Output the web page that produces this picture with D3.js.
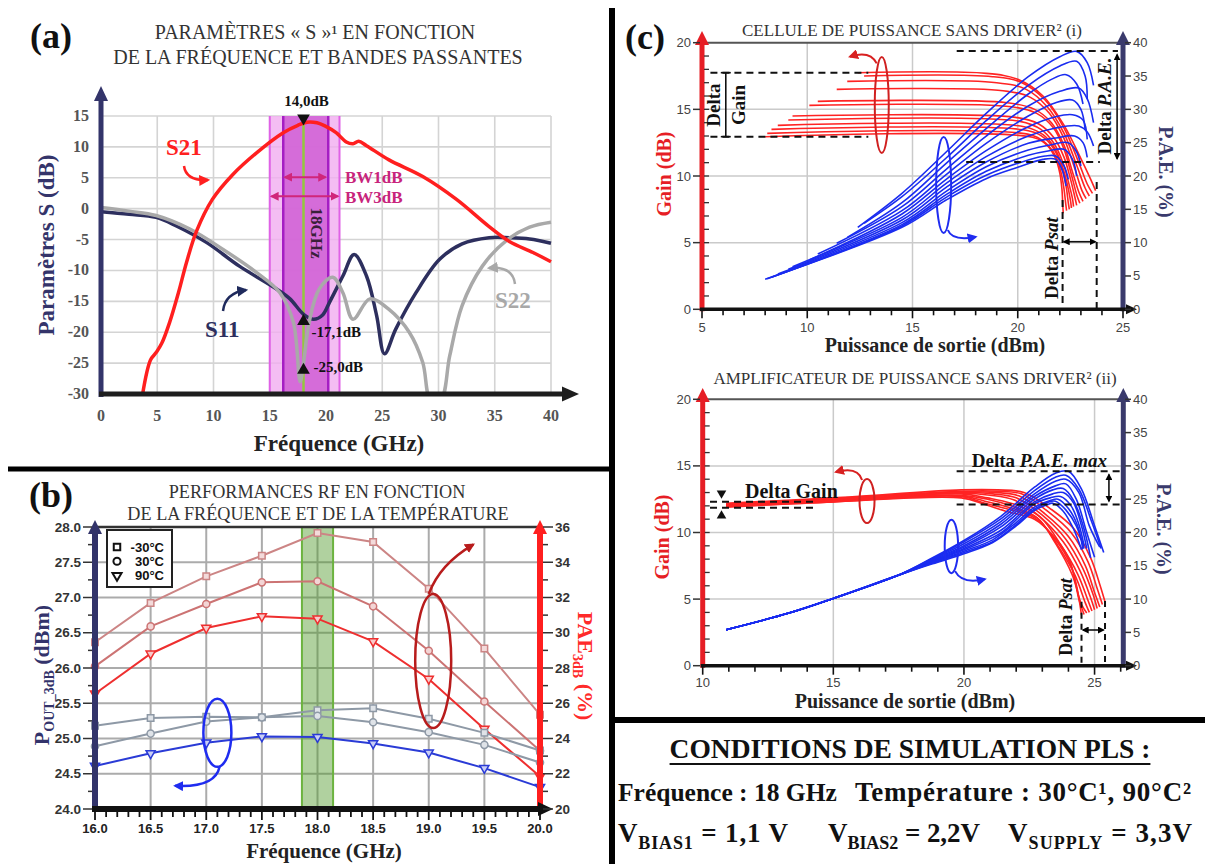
<!DOCTYPE html>
<html><head><meta charset="utf-8">
<script src="https://cdn.jsdelivr.net/npm/d3@7/dist/d3.min.js"></script>
<style>html,body{margin:0;padding:0;background:#fff}svg{display:block}</style>
</head><body>
<svg id="chart" width="1205" height="864" xmlns="http://www.w3.org/2000/svg"></svg>
<script>
/* ================= DATA ================= */
// (a) S-parameters vs frequency
const aFreqTicks=[0,5,10,15,20,25,30,35,40];
const aDbTicks=[-30,-25,-20,-15,-10,-5,0,5,10,15];
const s21Freq=[3.7,4.4,4.9,5.4,6.1,6.9,7.6,8.5,9.9,11.7,13.8,16.2,17.5,18.3,19.2,19.9,20.9,21.8,22.4,22.9,23.6,25.6,28.6,31.6,34.5,36.3,38.4,40];
const s21Db=[-30,-24.5,-23.3,-21.8,-18.4,-13.5,-8.7,-3.6,1.5,5.5,9.0,12.3,13.5,14.0,13.9,13.4,12.3,10.8,10.5,10.9,10.2,7.9,5.2,1.5,-2.9,-5.3,-7.1,-8.6];
const s11Freq=[0,2.5,4.9,6.7,9.4,12.3,15.6,16.8,18.0,18.9,19.7,20.3,21.5,22.5,23.6,24.5,25.2,26.2,28.0,30.1,32.1,34.5,36.3,38.1,40];
const s11Db=[-0.5,-0.9,-1.4,-2.8,-5.5,-9.3,-13.0,-14.6,-17.1,-17.9,-17.2,-15.2,-10.9,-7.4,-10.9,-17.3,-23.5,-19.5,-13.6,-8.2,-5.7,-4.7,-4.7,-4.9,-5.6];
const s22Freq=[0,2.5,4.9,7.9,10.85,13.8,15.9,17.1,17.7,18.0,18.5,19.4,20.6,21.5,22.4,23.9,25.6,27.4,28.6,29.3,30.2,31.0,32.1,33.9,36.0,38.1,40];
const s22Db=[0.2,-0.4,-1.1,-3.3,-6.6,-10.3,-13.6,-18.4,-28.0,-25.0,-18.4,-13.0,-11.1,-13.6,-17.9,-14.6,-16.3,-20.0,-24.9,-31,-31,-23.8,-15.7,-9.3,-5.2,-3.0,-2.2];
const bw3Range=[15.0,21.2];
const bw1Range=[16.2,20.2];
const fCenter=18;
const markS21=14.0, markS11=-17.1, markS22=-25.0;

// (b) RF performance vs frequency and temperature
const bFreq=[16,16.5,17,17.5,18,18.5,19,19.5,20];
const bPoutTicks=[24,24.5,25,25.5,26,26.5,27,27.5,28];
const bPaeTicks=[20,22,24,26,28,30,32,34,36];
const poutM30=[25.18,25.29,25.31,25.30,25.40,25.43,25.28,25.08,24.83];
const pout30=[24.89,25.07,25.24,25.30,25.32,25.23,25.09,24.91,24.66];
const pout90=[24.61,24.79,24.94,25.03,25.02,24.93,24.80,24.58,24.31];
const paeM30=[29.46,31.69,33.2,34.37,35.66,35.15,32.5,29.1,25.35];
const pae30=[28.09,30.36,31.63,32.86,32.92,31.5,28.98,26.1,23.3];
const pae90=[26.54,28.81,30.27,30.93,30.8,29.51,27.38,24.54,21.85];
const bBand=[17.86,18.14];
const bTemps=["-30°C","30°C","90°C"];

// (c)(i) power cell: gain (dB) and PAE (%) vs output power (dBm)
const gainCurvesI=[
 [[12.4,17.75],[18.5,17.7],[20.0,17.25],[21.2,16.0],[22.2,13.8],[23.0,11.3],[23.45,9.8],[23.7,8.9]],
 [[12.7,17.5],[18.8,17.45],[20.2,17.0],[21.3,15.7],[22.2,13.6],[22.9,11.0],[23.3,9.4],[23.55,8.7]],
 [[11.9,17.1],[19.0,17.0],[20.4,16.5],[21.4,15.2],[22.2,13.2],[22.8,10.8],[23.2,9.1],[23.4,8.5]],
 [[11.4,16.5],[19.3,16.4],[20.6,15.9],[21.5,14.7],[22.2,12.8],[22.7,10.6],[23.05,8.9],[23.25,8.3]],
 [[10.5,15.6],[19.5,15.5],[20.8,15.0],[21.6,14.0],[22.2,12.3],[22.6,10.3],[22.9,8.8],[23.1,8.1]],
 [[10.1,15.3],[19.7,15.2],[20.9,14.7],[21.7,13.6],[22.2,12.0],[22.55,10.1],[22.8,8.6],[22.95,7.95]],
 [[9.3,14.5],[19.9,14.4],[21.0,13.9],[21.7,12.9],[22.2,11.4],[22.5,9.8],[22.7,8.5],[22.8,7.8]],
 [[9.1,14.2],[20.1,14.1],[21.1,13.5],[21.7,12.5],[22.15,11.0],[22.4,9.6],[22.6,8.3],[22.65,7.7]],
 [[8.6,13.8],[20.3,13.7],[21.2,13.1],[21.75,12.1],[22.1,10.8],[22.35,9.4],[22.5,8.2],[22.55,7.6]],
 [[8.3,13.5],[20.5,13.4],[21.3,12.8],[21.8,11.8],[22.1,10.6],[22.3,9.2],[22.4,8.0],[22.45,7.5]],
 [[8.1,13.2],[20.6,13.1],[21.3,12.5],[21.8,11.5],[22.05,10.3],[22.2,9.0],[22.28,7.9],[22.32,7.4]],
 [[8.0,12.95],[20.7,12.9],[21.4,12.3],[21.8,11.3],[22.0,10.2],[22.1,9.0],[22.14,7.8],[22.16,7.2]]
];
const paeCurvesI=[
 [[12.4,12.3],[14.5,17.4],[16.6,23.6],[18.5,29.4],[20.5,34.9],[22.0,37.9],[22.8,38.7],[23.3,37.0],[23.6,33.6]],
 [[12.7,12.9],[14.5,16.9],[16.6,22.7],[18.5,28.3],[20.5,33.6],[22.0,36.5],[22.8,37.2],[23.2,35.0],[23.3,31.5]],
 [[11.9,10.8],[14.5,16.0],[16.6,21.9],[18.5,27.1],[20.5,32.3],[21.6,34.5],[22.3,35.2],[22.8,33.8],[23.1,30.8]],
 [[11.4,9.9],[14.5,15.4],[16.6,21.0],[18.5,26.0],[20.5,30.5],[22.0,32.7],[22.9,33.2],[23.3,31.6],[23.6,28.0]],
 [[10.5,8.3],[14.5,14.8],[16.6,20.2],[18.5,24.9],[20.5,29.0],[21.8,31.0],[22.6,31.4],[23.0,30.0],[23.2,27.0]],
 [[10.1,7.4],[14.5,14.3],[16.6,19.5],[18.5,23.8],[20.5,27.4],[21.8,28.9],[22.6,29.2],[23.1,28.4],[23.3,25.5]],
 [[9.3,6.4],[14.5,13.8],[16.6,18.9],[18.5,22.9],[20.5,26.0],[21.8,27.2],[22.9,27.5],[23.3,26.6],[23.6,24.5]],
 [[9.1,6.0],[14.5,13.4],[16.6,18.3],[18.5,22.1],[20.5,24.9],[21.8,25.7],[22.7,26.0],[23.1,25.0],[23.3,22.8]],
 [[8.6,5.3],[14.5,13.0],[16.6,17.7],[18.5,21.4],[20.5,23.9],[21.6,24.7],[22.4,25.0],[22.8,23.6],[23.0,21.5]],
 [[8.3,4.8],[14.5,12.7],[16.6,17.2],[18.5,20.7],[20.5,23.1],[21.5,23.8],[22.2,24.0],[22.6,22.5],[22.8,20.0]],
 [[8.1,4.6],[14.5,12.5],[16.6,16.8],[18.5,20.1],[20.5,22.4],[21.3,23.0],[21.8,23.0],[22.2,21.5],[22.4,19.5]],
 [[8.0,4.5],[14.5,12.3],[16.6,16.4],[18.5,19.6],[20.0,21.3],[21.2,22.5],[21.8,22.5],[22.1,21.0],[22.3,18.5]]
];
// (c)(ii) amplifier
const gainCurvesII=[
 [[10.9,12.2],[15.0,12.6],[19.9,13.2],[21.3,13.2],[22.3,13.0],[23.3,11.8],[24.2,10.3],[24.85,8.1],[25.2,6.1],[25.4,4.8]],
 [[10.9,12.15],[15.0,12.55],[19.9,13.1],[21.3,13.1],[22.2,12.9],[23.2,11.6],[24.1,10.0],[24.75,7.8],[25.1,5.8],[25.3,4.6]],
 [[10.9,12.1],[15.0,12.5],[19.9,13.05],[21.2,13.0],[22.1,12.75],[23.1,11.4],[24.0,9.7],[24.65,7.5],[25.0,5.5],[25.2,4.4]],
 [[10.9,12.1],[15.0,12.5],[19.9,13.0],[21.1,12.9],[22.0,12.6],[23.0,11.3],[23.9,9.5],[24.55,7.3],[24.95,5.3],[25.1,4.3]],
 [[10.9,12.05],[15.0,12.45],[19.9,12.95],[21.0,12.8],[21.9,12.45],[22.9,11.2],[23.8,9.3],[24.45,7.1],[24.85,5.1],[25.0,4.2]],
 [[10.9,12.05],[15.0,12.4],[19.9,12.9],[20.9,12.6],[21.8,12.2],[22.9,11.2],[23.7,9.1],[24.35,6.9],[24.75,4.9],[24.9,4.1]],
 [[10.9,12.0],[15.0,12.4],[19.9,12.8],[20.9,12.5],[21.8,12.0],[22.8,11.1],[23.6,9.0],[24.25,6.8],[24.65,4.7],[24.8,4.0]],
 [[10.9,12.0],[15.0,12.35],[19.9,12.75],[20.8,12.35],[21.7,11.9],[22.8,11.1],[23.5,9.2],[24.15,6.8],[24.5,4.6],[24.7,3.95]],
 [[10.9,11.95],[15.0,12.3],[19.9,12.7],[20.8,12.2],[21.7,11.75],[22.7,11.1],[23.45,9.6],[24.1,7.5],[24.4,5.0],[24.6,3.85]],
 [[10.9,11.9],[15.0,12.3],[19.9,12.6],[20.8,12.1],[21.6,11.6],[22.7,11.0],[23.4,9.8],[24.0,8.1],[24.3,6.1],[24.5,3.8]]
];
const paeCurvesII=[
 [[10.9,5.4],[13.3,7.9],[15.0,10.1],[17.5,13.6],[18.8,16.2],[20.0,18.8],[21.4,22.4],[22.7,26.8],[23.5,28.9],[24.0,29.2],[24.5,26.5],[25.0,21.0],[25.35,17.0]],
 [[10.9,5.4],[13.3,7.9],[15.0,10.1],[17.5,13.6],[18.8,16.1],[20.0,18.6],[21.4,22.0],[22.7,26.3],[23.5,28.3],[23.9,28.6],[24.4,26.5],[24.9,21.5],[25.25,17.6]],
 [[10.9,5.4],[13.3,7.9],[15.0,10.1],[17.5,13.6],[18.8,16.0],[20.0,18.3],[21.4,21.6],[22.7,25.8],[23.5,27.7],[23.9,28.0],[24.4,26.0],[24.8,21.0],[25.2,17.8]],
 [[10.9,5.4],[13.3,7.9],[15.0,10.1],[17.5,13.6],[18.8,15.9],[20.0,18.0],[21.4,21.2],[22.7,25.4],[23.5,27.0],[23.9,27.3],[24.3,25.0],[24.7,20.0],[25.0,16.3]],
 [[10.9,5.4],[13.3,7.9],[15.0,10.1],[17.5,13.6],[18.8,15.8],[20.0,17.8],[21.4,20.8],[22.7,25.0],[23.4,26.4],[23.8,26.6],[24.2,24.8],[24.6,20.5],[24.85,16.2]],
 [[10.9,5.4],[13.3,7.9],[15.0,10.1],[17.5,13.6],[18.8,15.7],[20.0,17.6],[21.4,20.3],[22.7,24.6],[23.4,25.8],[23.8,26.0],[24.2,24.4],[24.5,21.0],[24.7,17.6]],
 [[10.9,5.4],[13.3,7.9],[15.0,10.1],[17.5,13.6],[18.8,15.6],[20.0,17.4],[21.4,19.9],[22.7,24.3],[23.3,25.2],[23.7,25.4],[24.1,24.0],[24.4,21.2],[24.6,18.0]],
 [[10.9,5.4],[13.3,7.9],[15.0,10.1],[17.5,13.6],[18.8,15.5],[20.0,17.2],[21.1,18.9],[22.0,21.5],[22.7,23.8],[23.3,24.8],[23.6,25.0],[24.0,23.6],[24.35,21.0],[24.55,17.5]],
 [[10.9,5.4],[13.3,7.9],[15.0,10.1],[17.5,13.6],[18.8,15.4],[20.0,17.0],[21.1,18.6],[22.0,21.2],[22.7,23.5],[23.2,24.5],[23.5,24.7],[23.9,23.4],[24.3,21.0],[24.6,17.6]],
 [[10.9,5.4],[13.3,7.9],[15.0,10.1],[17.5,13.6],[18.8,15.3],[20.0,16.8],[21.1,18.5],[22.0,21.0],[22.7,23.3],[23.2,24.2],[23.4,24.4],[23.8,23.2],[24.2,20.5],[24.5,17.4]]
];
const cGainTicks=[0,5,10,15,20];
const cPaeTicks=[0,5,10,15,20,25,30,35,40];
const cPoutTicksI=[5,10,15,20,25];
const cPoutTicksII=[10,15,20,25];

/* ================= SETUP ================= */
const SERIF="'Liberation Serif','Times New Roman',serif";
const SANS="'Liberation Sans',Arial,sans-serif";
const NARROW="'Liberation Sans Narrow','Arial Narrow','Liberation Sans',sans-serif";
const svg=d3.select("#chart");
svg.append("rect").attr("width",1205).attr("height",864).attr("fill","#fff");
const defs=svg.append("defs");
function mk(id,color,size){
  defs.append("marker").attr("id",id).attr("viewBox","0 0 10 10").attr("refX",8).attr("refY",5)
   .attr("markerUnits","userSpaceOnUse").attr("markerWidth",size).attr("markerHeight",size)
   .attr("orient","auto-start-reverse").append("path").attr("d","M0,0L10,5L0,10Z").attr("fill",color);
}
mk("arRed","#ff2020",11);mk("arNavy","#1f2a5c",11);mk("arGray","#a8a8a8",11);mk("arMag","#d0267a",9);
mk("arBlue","#1f2cf0",10);mk("arDRed","#b81c1c",10);mk("arBlk","#000",7);mk("arBlueB","#1f2cf0",10);mk("arRedB","#d82020",10);

function T(g,x,y,str,o={}){
  const t=g.append("text").attr("x",x).attr("y",y)
   .attr("font-family",o.ff||SERIF).attr("font-size",o.fs||14).attr("font-weight",o.fw||"normal")
   .attr("fill",o.fill||"#222").attr("text-anchor",o.anchor||"start");
  if(str!=null) t.text(str);
  if(o.rot!=null) t.attr("transform",`rotate(${o.rot},${x},${y})`);
  if(o.italic) t.attr("font-style","italic");
  return t;
}
function vAxis(g,x,y0,yTip,color,w,head,hw){
  g.append("line").attr("x1",x).attr("x2",x).attr("y1",y0).attr("y2",yTip+head-1).attr("stroke",color).attr("stroke-width",w);
  g.append("path").attr("d",`M${x},${yTip}L${x-hw},${yTip+head}L${x+hw},${yTip+head}Z`).attr("fill",color);
}
function hAxis(g,y,x0,xTip,color,w,head,hw){
  g.append("line").attr("x1",x0).attr("x2",xTip-head+1).attr("y1",y).attr("y2",y).attr("stroke",color).attr("stroke-width",w);
  g.append("path").attr("d",`M${xTip},${y}L${xTip-head},${y-hw}L${xTip-head},${y+hw}Z`).attr("fill",color);
}
function seg(g,x1,y1,x2,y2,color,w,dash){
  const l=g.append("line").attr("x1",x1).attr("y1",y1).attr("x2",x2).attr("y2",y2).attr("stroke",color).attr("stroke-width",w);
  if(dash) l.attr("stroke-dasharray",dash);
  return l;
}
function curvedArrow(g,p0,p1,p2,color,w,markerId){
  g.append("path").attr("d",`M${p0[0]},${p0[1]}Q${p1[0]},${p1[1]} ${p2[0]},${p2[1]}`)
   .attr("fill","none").attr("stroke",color).attr("stroke-width",w).attr("marker-end",`url(#${markerId})`);
}

/* ================= PANEL (a) ================= */
const xa=d3.scaleLinear().domain([0,40]).range([101,551]);
const ya=d3.scaleLinear().domain([-30,15]).range([394,116]);
const ga=svg.append("g");
T(ga,30,48,"(a)",{fs:36,fw:"bold",fill:"#111"});
T(ga,315,39,"PARAMÈTRES « S »¹ EN FONCTION",{fs:20,anchor:"middle",fill:"#333"});
T(ga,318,64,"DE LA FRÉQUENCE ET BANDES PASSANTES",{fs:20,anchor:"middle",fill:"#333"});
// grid
ga.selectAll("line.gx").data(aFreqTicks.slice(1)).join("line").attr("class","gx")
  .attr("x1",d=>xa(d)).attr("x2",d=>xa(d)).attr("y1",ya(-30)).attr("y2",ya(15)).attr("stroke","#d4d4d4").attr("stroke-width",1.6);
ga.selectAll("line.gy").data(aDbTicks.slice(1)).join("line").attr("class","gy")
  .attr("x1",xa(0)).attr("x2",xa(40)).attr("y1",d=>ya(d)).attr("y2",d=>ya(d)).attr("stroke","#d4d4d4").attr("stroke-width",1.6);
// bands
ga.append("rect").attr("x",xa(bw3Range[0])).attr("width",xa(bw3Range[1])-xa(bw3Range[0])).attr("y",ya(15)).attr("height",ya(-30)-ya(15))
  .attr("fill","#f2aef0").attr("fill-opacity",0.82);
bw3Range.forEach(f=>seg(ga,xa(f),ya(15),xa(f),ya(-30),"#df62e6",2));
ga.append("rect").attr("x",xa(bw1Range[0])).attr("width",xa(bw1Range[1])-xa(bw1Range[0])).attr("y",ya(15)).attr("height",ya(-30)-ya(15))
  .attr("fill","#d163d6").attr("fill-opacity",0.9);
bw1Range.forEach(f=>seg(ga,xa(f),ya(15),xa(f),ya(-30),"#a51ec4",2.5));
seg(ga,xa(fCenter),ya(15),xa(fCenter),ya(-30),"#93c83e",2.5);
// curves
defs.append("clipPath").attr("id","clipA").append("rect").attr("x",xa(0)).attr("y",80).attr("width",xa(40)-xa(0)+2).attr("height",ya(-30)-80);
const lineA=d3.line().x(d=>xa(d[0])).y(d=>ya(d[1])).curve(d3.curveCatmullRom.alpha(0.5));
const gc=ga.append("g").attr("clip-path","url(#clipA)");
gc.append("path").attr("d",lineA(d3.zip(s11Freq,s11Db))).attr("fill","none").attr("stroke","#2d2f5e").attr("stroke-width",3.5);
gc.append("path").attr("d",lineA(d3.zip(s22Freq,s22Db))).attr("fill","none").attr("stroke","#a9a9a9").attr("stroke-width",3.5);
gc.append("path").attr("d",lineA(d3.zip(s21Freq,s21Db))).attr("fill","none").attr("stroke","#ff1f1f").attr("stroke-width",3.5);
// markers
const tri=d3.symbol().type(d3.symbolTriangle).size(70);
ga.append("path").attr("d",tri()).attr("transform",`translate(${xa(fCenter)},${ya(markS21)-4}) rotate(180)`).attr("fill","#111");
ga.append("path").attr("d",tri()).attr("transform",`translate(${xa(fCenter)},${ya(markS11)+7})`).attr("fill","#111");
ga.append("path").attr("d",tri()).attr("transform",`translate(${xa(fCenter)},${ya(markS22)+7})`).attr("fill","#111");
T(ga,xa(fCenter)+3,106,"14,0dB",{fs:15,fw:"bold",anchor:"middle",fill:"#111"});
T(ga,xa(fCenter)+8,ya(markS11)+23,"-17,1dB",{fs:15,fw:"bold",fill:"#111"});
T(ga,xa(fCenter)+10,ya(markS22)+9,"-25,0dB",{fs:15,fw:"bold",fill:"#111"});
// bandwidth arrows
seg(ga,xa(16.35),ya(5.1),xa(19.95),ya(5.1),"#d0267a",2).attr("marker-end","url(#arMag)").attr("marker-start","url(#arMag)");
seg(ga,xa(15.15),ya(2.0),xa(21.05),ya(2.0),"#d0267a",2).attr("marker-end","url(#arMag)").attr("marker-start","url(#arMag)");
T(ga,345,183,"BW1dB",{fs:17,fw:"bold",fill:"#c8247c"});
T(ga,345,203,"BW3dB",{fs:17,fw:"bold",fill:"#c8247c"});
T(ga,311,233,"18GHz",{fs:17,fw:"bold",fill:"#3a203a",anchor:"middle",rot:90});
// curve labels
T(ga,166,155,"S21",{fs:23,fw:"bold",fill:"#ff2020"});
curvedArrow(ga,[184,166],[186,181],[208,180],"#ff2020",2.5,"arRed");
T(ga,205,337,"S11",{fs:23,fw:"bold",fill:"#2d2f5e"});
curvedArrow(ga,[223,311],[225,293],[246,290],"#1f2a5c",2.5,"arNavy");
T(ga,495,308,"S22",{fs:23,fw:"bold",fill:"#a8a8a8"});
curvedArrow(ga,[515,284],[513,266],[489,268],"#a8a8a8",2.5,"arGray");
// axes
vAxis(ga,xa(0),397,86,"#33346a",5,15,7);
hAxis(ga,ya(-30),xa(0)-2,579,"#1e1e1e",5,17,7.5);
aDbTicks.forEach(v=>T(ga,89,ya(v)+5,String(v),{fs:16,fw:"bold",fill:"#555",anchor:"end"}));
aFreqTicks.forEach(v=>T(ga,xa(v),421,String(v),{fs:16,fw:"bold",fill:"#555",anchor:"middle"}));
T(ga,339,451,"Fréquence (GHz)",{fs:23,fw:"bold",fill:"#222",anchor:"middle"});
T(ga,54,245,"Paramètres S (dB)",{fs:23,fw:"bold",fill:"#34346a",anchor:"middle",rot:-90});

/* ================= PANEL (b) ================= */
const xb=d3.scaleLinear().domain([16,20]).range([95,540]);
const yb=d3.scaleLinear().domain([24,28]).range([809,527]);
const yb2=d3.scaleLinear().domain([20,36]).range([809,527]);
const gb=svg.append("g");
T(gb,29,507,"(b)",{fs:36,fw:"bold",fill:"#111"});
T(gb,317,498,"PERFORMANCES RF EN FONCTION",{fs:18.2,anchor:"middle",fill:"#333"});
T(gb,318,520,"DE LA FRÉQUENCE ET DE LA TEMPÉRATURE",{fs:18.2,anchor:"middle",fill:"#333"});
const bGridX=bFreq.slice(1,-1);
gb.selectAll("line.gx").data(bGridX).join("line").attr("class","gx").attr("x1",d=>xb(d)).attr("x2",d=>xb(d)).attr("y1",yb(24)).attr("y2",yb(28)).attr("stroke","#ababab").attr("stroke-width",2);
gb.selectAll("line.gy").data(bPoutTicks.slice(1,-1)).join("line").attr("class","gy").attr("x1",xb(16)).attr("x2",xb(20)).attr("y1",d=>yb(d)).attr("y2",d=>yb(d)).attr("stroke","#ababab").attr("stroke-width",2);
gb.append("rect").attr("x",xb(bBand[0])).attr("width",xb(bBand[1])-xb(bBand[0])).attr("y",yb(28)).attr("height",yb(24)-yb(28))
  .attr("fill","#4f9a2a").attr("fill-opacity",0.45).attr("stroke","#6cb33f").attr("stroke-width",2);
const seriesB=[
 {v:paeM30,s:yb2,c:"#cc8585",f:"#f3dada",sym:"sq"},
 {v:pae30,s:yb2,c:"#cc7373",f:"#f3d5d5",sym:"ci"},
 {v:pae90,s:yb2,c:"#ee2f2f",f:"#f8caca",sym:"tr"},
 {v:poutM30,s:yb,c:"#8e99a6",f:"#dfe3e8",sym:"sq"},
 {v:pout30,s:yb,c:"#8e99a6",f:"#dfe3e8",sym:"ci"},
 {v:pout90,s:yb,c:"#2a3bd6",f:"#c9cef5",sym:"tr"}
];
const symGen={sq:d3.symbol().type(d3.symbolSquare).size(42),ci:d3.symbol().type(d3.symbolCircle).size(40),tr:d3.symbol().type(d3.symbolTriangle).size(36)};
seriesB.forEach(sr=>{
  const pts=d3.zip(bFreq,sr.v);
  gb.append("path").attr("d",d3.line().x(d=>xb(d[0])).y(d=>sr.s(d[1]))(pts)).attr("fill","none").attr("stroke",sr.c).attr("stroke-width",2);
  gb.selectAll(null).data(pts).join("path").attr("d",symGen[sr.sym]())
    .attr("transform",d=>`translate(${xb(d[0])},${sr.s(d[1])})${sr.sym==="tr"?" rotate(180)":""}`)
    .attr("fill",sr.f).attr("stroke",sr.c).attr("stroke-width",1.5);
});
// axes
seg(gb,xb(16),yb(28),xb(20),yb(28),"#333",2.5);
vAxis(gb,xb(16),812,520,"#32336a",6,14,7);
vAxis(gb,xb(20),812,520,"#ff1f1f",6,14,7);
hAxis(gb,yb(24),xb(16)-3,553,"#111",6,15,7);
bPoutTicks.forEach(v=>{T(gb,81,yb(v)+4.5,d3.format(".1f")(v),{ff:NARROW,fs:13.5,fw:"bold",fill:"#333",anchor:"end"});seg(gb,83,yb(v),92,yb(v),"#333",1.5);});
bPoutTicks.slice(1).forEach(v=>seg(gb,88,yb(v-0.25),92,yb(v-0.25),"#333",1.5));
bPaeTicks.forEach(v=>{T(gb,555,yb2(v)+4.5,String(v),{ff:NARROW,fs:13.5,fw:"bold",fill:"#333"});seg(gb,543,yb2(v),553,yb2(v),"#333",1.5);});
bPaeTicks.slice(1).forEach(v=>seg(gb,543,yb2(v-1),548,yb2(v-1),"#333",1.5));
d3.range(0,41).forEach(i=>{const f=16+i*0.1;const major=i%5===0;seg(gb,xb(f),yb(24)+2,xb(f),yb(24)+(major?11:8),"#111",1.8);});
bFreq.forEach(v=>T(gb,xb(v),833,d3.format(".1f")(v),{ff:NARROW,fs:13,fw:"bold",fill:"#222",anchor:"middle"}));
T(gb,324,858,"Fréquence (GHz)",{fs:21,fw:"bold",fill:"#222",anchor:"middle"});
const lblL=T(gb,49,675,null,{fs:22,fw:"bold",fill:"#33336b",anchor:"middle",rot:-90});
lblL.append("tspan").text("P");lblL.append("tspan").attr("font-size",14).attr("dy",5).text("OUT_3dB");lblL.append("tspan").attr("dy",-5).text(" (dBm)");
const lblR=T(gb,578,666,null,{fs:22,fw:"bold",fill:"#ff2a2a",anchor:"middle",rot:90});
lblR.append("tspan").text("PAE");lblR.append("tspan").attr("font-size",14).attr("dy",5).text("3dB");lblR.append("tspan").attr("dy",-5).text(" (%)");
// legend
gb.append("rect").attr("x",107).attr("y",530).attr("width",65).attr("height",57).attr("fill","#fff").attr("stroke","#222").attr("stroke-width",2);
["sq","ci","tr"].forEach((s,i)=>{
  const yy=547+i*14.3;
  gb.append("path").attr("d",symGen[s]()).attr("transform",`translate(117,${yy})${s==="tr"?" rotate(180)":""}`).attr("fill","#fff").attr("stroke","#111").attr("stroke-width",2);
  T(gb,164,yy+4.5,bTemps[i],{ff:SANS,fs:13,fw:"bold",fill:"#111",anchor:"end"});
});
// ellipses
gb.append("ellipse").attr("cx",xb(17.1)).attr("cy",yb(25.08)).attr("rx",14).attr("ry",34).attr("fill","none").attr("stroke","#1f2cf0").attr("stroke-width",2.5);
curvedArrow(gb,[xb(17.12),yb(24.6)],[xb(17.08),yb(24.3)],[xb(16.72),yb(24.33)],"#1f2cf0",2.5,"arBlue");
gb.append("ellipse").attr("cx",xb(19.04)).attr("cy",yb2(28.4)).attr("rx",18).attr("ry",67).attr("fill","none").attr("stroke","#b81c1c").attr("stroke-width",2.5);
curvedArrow(gb,[xb(19.0),yb2(32.2)],[xb(19.1),yb2(33.9)],[xb(19.40),yb2(35.0)],"#b81c1c",2.5,"arDRed");

/* ================= PANEL (c) ================= */
function panelC(cfg){
  const g=svg.append("g");
  const {x,yG,yP,xTicks,minor,top,bot,left,right,tipY,gain,pae}=cfg;
  xTicks.filter(v=>x(v)>left+3&&x(v)<right-3).forEach(v=>seg(g,x(v),bot,x(v),top,"#cacaca",1.5));
  [5,10,15].forEach(v=>seg(g,left,yG(v),right,yG(v),"#cacaca",1.5));
  seg(g,left,top,right,top,"#555",2);
  const lg=d3.line().x(d=>x(d[0])).y(d=>yG(d[1])).curve(d3.curveCatmullRom.alpha(0.5));
  const lp=d3.line().x(d=>x(d[0])).y(d=>yP(d[1])).curve(d3.curveCatmullRom.alpha(0.5));
  gain.forEach(c=>g.append("path").attr("d",lg(c)).attr("fill","none").attr("stroke","#ff2323").attr("stroke-width",1.6));
  pae.forEach(c=>g.append("path").attr("d",lp(c)).attr("fill","none").attr("stroke","#1a2cf0").attr("stroke-width",1.6));
  // axes
  vAxis(g,left,bot+2,tipY,"#e61e25",5,14,7);
  vAxis(g,right,bot+2,tipY,"#3a3a6c",5,14,7);
  hAxis(g,bot,left-2,1137,"#111",3.5,11,5);
  cGainTicks.forEach(v=>{T(g,691,yG(v)+4.5,String(v),{ff:SANS,fs:13,fill:"#444",anchor:"end"});seg(g,693,yG(v),700,yG(v),"#333",1.5);});
  d3.range(1,20).forEach(v=>seg(g,left+2,yG(v),left+7,yG(v),"#333",1.3));
  cPaeTicks.forEach(v=>{T(g,1133,yP(v)+4.5,String(v),{ff:SANS,fs:13,fill:"#444"});seg(g,1125,yP(v),1131,yP(v),"#333",1.5);});
  minor.forEach(v=>seg(g,x(v),bot+1,x(v),bot+(xTicks.includes(v)?9:6),"#111",1.6));
  xTicks.forEach(v=>T(g,x(v),cfg.tickY,String(v),{ff:SANS,fs:13,fill:"#444",anchor:"middle"}));
  return g;
}
// (i)
const xi=d3.scaleLinear().domain([5,25]).range([702,1123]);
const yi=d3.scaleLinear().domain([0,20]).range([309.3,42.7]);
const yiP=d3.scaleLinear().domain([0,40]).range([309.3,42.7]);
const gi=panelC({x:xi,yG:yi,yP:yiP,xTicks:cPoutTicksI,minor:d3.range(5,26),top:42.7,bot:309.3,left:702,right:1123,tipY:31,gain:gainCurvesI,pae:paeCurvesI,tickY:332});
T(gi,625,49,"(c)",{fs:36,fw:"bold",fill:"#111"});
T(gi,912,36,"CELLULE DE PUISSANCE SANS DRIVER² (i)",{fs:17,anchor:"middle",fill:"#333"});
T(gi,935,352,"Puissance de sortie (dBm)",{fs:20,fw:"bold",fill:"#222",anchor:"middle"});
T(gi,671,174,"Gain (dB)",{fs:20,fw:"bold",fill:"#e61e25",anchor:"middle",rot:-90});
T(gi,1159,172,"P.A.E. (%)",{fs:20,fw:"bold",fill:"#3a3a6c",anchor:"middle",rot:90});
// annotations (i)
seg(gi,xi(5.4),yi(17.75),xi(12.9),yi(17.75),"#111",2,"7,5");
seg(gi,xi(5.4),yi(12.95),xi(12.9),yi(12.95),"#111",2,"7,5");
seg(gi,xi(6.13),yi(17.75),xi(6.13),yi(12.95),"#111",1.6);
seg(gi,xi(6.13)-5,yi(17.75),xi(6.13)+5,yi(17.75),"#111",1.6);
seg(gi,xi(6.13)-5,yi(12.95),xi(6.13)+5,yi(12.95),"#111",1.6);
T(gi,720,105,"Delta",{fs:19,fw:"bold",fill:"#111",anchor:"middle",rot:-90});
T(gi,745,105,"Gain",{fs:19,fw:"bold",fill:"#111",anchor:"middle",rot:-90});
seg(gi,xi(17.1),yiP(38.75),xi(24.76),yiP(38.75),"#111",2,"7,5");
seg(gi,xi(17.55),yiP(22.1),xi(23.9),yiP(22.1),"#111",2,"7,5");
seg(gi,xi(24.72),yiP(38.2),xi(24.72),yiP(22.6),"#111",1.6).attr("marker-end","url(#arBlk)").attr("marker-start","url(#arBlk)");
const dpae=T(gi,1111,106,null,{fs:19,fw:"bold",fill:"#111",anchor:"middle",rot:-90});
dpae.append("tspan").text("Delta ");dpae.append("tspan").attr("font-style","italic").text("P.A.E.");
seg(gi,xi(22.13),yi(8.2),xi(22.13),yi(0),"#111",2,"7,5");
seg(gi,xi(23.75),yi(9.55),xi(23.75),yi(0),"#111",2,"7,5");
seg(gi,xi(22.2),yi(5.07),xi(23.68),yi(5.07),"#111",1.6).attr("marker-end","url(#arBlk)").attr("marker-start","url(#arBlk)");
const dps=T(gi,1058,258,null,{fs:19,fw:"bold",fill:"#111",anchor:"middle",rot:-90});
dps.append("tspan").text("Delta ");dps.append("tspan").attr("font-style","italic").text("Psat");
gi.append("ellipse").attr("cx",xi(13.54)).attr("cy",yi(15.33)).attr("rx",7).attr("ry",48).attr("fill","none").attr("stroke","#d02020").attr("stroke-width",2);
curvedArrow(gi,[xi(13.3),yi(18.45)],[xi(12.98),yi(19.45)],[xi(12.03),yi(18.95)],"#d82020",2,"arRedB");
gi.append("ellipse").attr("cx",xi(16.48)).attr("cy",yiP(18.65)).attr("rx",7.5).attr("ry",48).attr("fill","none").attr("stroke","#1f2cf0").attr("stroke-width",2);
curvedArrow(gi,[xi(16.68),yiP(11.9)],[xi(16.88),yiP(10.2)],[xi(18.0),yiP(10.85)],"#1f2cf0",2,"arBlueB");

// (ii)
const xii=d3.scaleLinear().domain([10,26.1]).range([702.7,1123.3]);
const yii=d3.scaleLinear().domain([0,20]).range([665.7,399.3]);
const yiiP=d3.scaleLinear().domain([0,40]).range([665.7,399.3]);
const gii=panelC({x:xii,yG:yii,yP:yiiP,xTicks:cPoutTicksII,minor:d3.range(10,27),top:399.3,bot:665.7,left:702.7,right:1123.3,tipY:388,gain:gainCurvesII,pae:paeCurvesII,tickY:687});
T(gii,915,384,"AMPLIFICATEUR DE PUISSANCE SANS DRIVER² (ii)",{fs:17,anchor:"middle",fill:"#333"});
T(gii,905,708,"Puissance de sortie (dBm)",{fs:20,fw:"bold",fill:"#222",anchor:"middle"});
T(gii,669,537,"Gain (dB)",{fs:20,fw:"bold",fill:"#e61e25",anchor:"middle",rot:-90});
T(gii,1157,529,"P.A.E. (%)",{fs:20,fw:"bold",fill:"#3a3a6c",anchor:"middle",rot:90});
// annotations (ii)
seg(gii,xii(10.28),yii(12.3),xii(14.41),yii(12.3),"#111",2,"7,5");
seg(gii,xii(10.28),yii(11.85),xii(14.41),yii(11.85),"#111",2,"7,5");
const tri2=d3.symbol().type(d3.symbolTriangle).size(40);
gii.append("path").attr("d",tri2()).attr("transform",`translate(${xii(10.72)},${yii(12.95)}) rotate(180)`).attr("fill","#111");
gii.append("path").attr("d",tri2()).attr("transform",`translate(${xii(10.72)},${yii(11.25)})`).attr("fill","#111");
T(gii,xii(11.62),yii(12.6),"Delta Gain",{fs:20,fw:"bold",fill:"#111"});
seg(gii,xii(19.72),yiiP(29.2),xii(25.97),yiiP(29.2),"#111",2,"7,5");
seg(gii,xii(19.72),yiiP(24.2),xii(25.97),yiiP(24.2),"#111",2,"7,5");
seg(gii,xii(25.55),yiiP(28.7),xii(25.55),yiiP(24.7),"#111",1.6).attr("marker-end","url(#arBlk)").attr("marker-start","url(#arBlk)");
const dpm=T(gii,xii(20.3),yiiP(29.9),null,{fs:19,fw:"bold",fill:"#111"});
dpm.append("tspan").text("Delta ");dpm.append("tspan").attr("font-style","italic").text("P.A.E. max");
seg(gii,xii(24.5),yii(4.8),xii(24.5),yii(0),"#111",2,"6,5");
seg(gii,xii(25.4),yii(4.85),xii(25.4),yii(0),"#111",2,"6,5");
seg(gii,xii(24.56),yii(2.68),xii(25.34),yii(2.68),"#111",1.6).attr("marker-end","url(#arBlk)").attr("marker-start","url(#arBlk)");
const dps2=T(gii,1072,617,null,{fs:18,fw:"bold",fill:"#111",anchor:"middle",rot:-90});
dps2.append("tspan").text("Delta ");dps2.append("tspan").attr("font-style","italic").text("Psat");
gii.append("ellipse").attr("cx",xii(16.29)).attr("cy",yii(12.36)).attr("rx",7.5).attr("ry",22).attr("fill","none").attr("stroke","#d02020").attr("stroke-width",2);
curvedArrow(gii,[xii(16.1),yii(13.94)],[xii(15.94),yii(14.99)],[xii(15.1),yii(14.54)],"#d82020",2,"arRedB");
gii.append("ellipse").attr("cx",xii(19.52)).attr("cy",yiiP(17.9)).attr("rx",6.7).attr("ry",26.7).attr("fill","none").attr("stroke","#1f2cf0").attr("stroke-width",2);
curvedArrow(gii,[xii(19.66),yiiP(14.2)],[xii(19.92),yiiP(12.2)],[xii(20.8),yiiP(13.0)],"#1f2cf0",2,"arBlueB");

/* ================= CONDITIONS BOX ================= */
const gk=svg.append("g");
const c1=T(gk,910,758,"CONDITIONS DE SIMULATION PLS :",{fs:27.5,fw:"bold",fill:"#111",anchor:"middle"});
const w1=c1.node().getComputedTextLength();
seg(gk,910-w1/2,764,910+w1/2,764,"#111",2);
T(gk,618,801,"Fréquence : 18 GHz",{fs:25.5,fw:"bold",fill:"#111"});
T(gk,855,801,"Température : 30°C¹, 90°C²",{fs:27,fw:"bold",fill:"#111"}).attr("textLength",336).attr("lengthAdjust","spacing");
function vline(x,sub,val,len){
  const t=T(gk,x,842,null,{fs:27,fw:"bold",fill:"#111"});
  t.append("tspan").text("V");t.append("tspan").attr("font-size",18).attr("dy",7).text(sub);t.append("tspan").attr("dy",-7).text(val);
  t.attr("textLength",len).attr("lengthAdjust","spacing");
}
vline(618,"BIAS1"," = 1,1 V",170);
vline(828,"BIAS2"," = 2,2V",152);
vline(1008,"SUPPLY"," = 3,3V",184);

/* ================= SEPARATORS ================= */
seg(svg,8,469,612,469,"#000",5);
seg(svg,612,8,612,864,"#000",6);
seg(svg,612,720,1205,720,"#000",6);
</script>
</body></html>
